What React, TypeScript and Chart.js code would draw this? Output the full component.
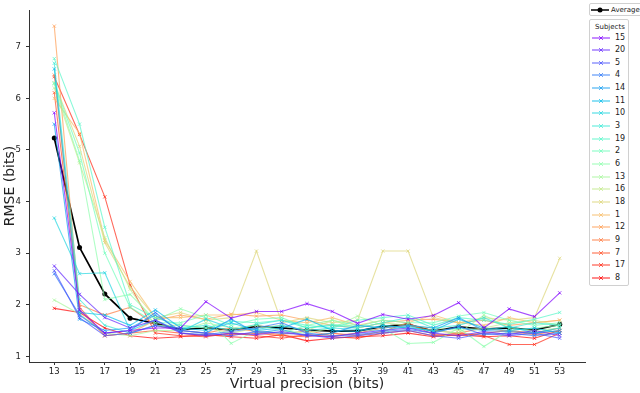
import React, { useEffect, useRef } from "react";
import { Chart, registerables } from "chart.js";

Chart.register(...registerables);

const precisions = [13, 15, 17, 19, 21, 23, 25, 27, 29, 31, 33, 35, 37, 39, 41, 43, 45, 47, 49, 51, 53];
const yTicks = [1, 2, 3, 4, 5, 6, 7];

const subjectNames = ["15", "20", "5", "4", "14", "11", "10", "3", "19", "2", "6", "13", "16", "18", "1", "12", "9", "7", "17", "8"];

const s15 = [5.72, 1.9, 1.45, 1.5, 1.55, 1.55, 2.06, 1.74, 1.87, 1.87, 2.02, 1.87, 1.64, 1.81, 1.72, 1.79, 2.04, 1.55, 1.92, 1.77, 2.23];
const s20 = [2.75, 2.2, 1.75, 1.55, 1.7, 1.45, 1.4, 1.45, 1.42, 1.48, 1.4, 1.38, 1.45, 1.5, 1.55, 1.45, 1.4, 1.48, 1.42, 1.5, 1.4];
const s5 = [2.66, 1.75, 1.4, 1.45, 1.6, 1.5, 1.45, 1.4, 1.48, 1.45, 1.42, 1.35, 1.4, 1.45, 1.5, 1.4, 1.35, 1.45, 1.4, 1.45, 1.35];
const s4 = [2.6, 1.8, 1.45, 1.5, 1.85, 1.45, 1.42, 1.48, 1.55, 1.65, 1.45, 1.4, 1.42, 1.48, 1.52, 1.45, 1.58, 1.42, 1.45, 1.4, 1.45];
const s14 = [5.5, 1.72, 1.5, 1.55, 1.8, 1.5, 1.45, 1.72, 1.45, 1.52, 1.4, 1.45, 1.6, 1.55, 1.6, 1.55, 1.75, 1.5, 1.48, 1.45, 1.5];
const s11 = [6.57, 1.85, 1.8, 1.6, 1.9, 1.55, 1.5, 1.65, 1.5, 1.55, 1.72, 1.5, 1.48, 1.6, 1.55, 1.5, 1.72, 1.55, 1.5, 1.55, 1.45];
const s10 = [3.68, 2.6, 2.62, 1.5, 1.7, 1.48, 1.72, 1.55, 1.52, 1.6, 1.5, 1.55, 1.52, 1.5, 1.58, 1.48, 1.55, 1.5, 1.58, 1.45, 1.55];
const s3 = [6.68, 2.1, 1.6, 1.45, 1.6, 1.55, 1.6, 1.5, 1.62, 1.7, 1.55, 1.6, 1.55, 1.65, 1.75, 1.55, 1.6, 1.75, 1.55, 1.65, 1.6];
const s19 = [6.77, 5.5, 3.5, 2.0, 1.75, 1.6, 1.55, 1.68, 1.65, 1.7, 1.6, 1.55, 1.7, 1.75, 1.8, 1.6, 1.75, 1.7, 1.62, 1.72, 1.85];
const s2 = [6.3, 4.94, 3.0, 1.95, 1.65, 1.65, 1.8, 1.6, 1.72, 1.75, 1.55, 1.62, 1.58, 1.7, 1.65, 1.65, 1.78, 1.85, 1.7, 1.6, 1.65];
const s6 = [6.28, 4.79, 2.1, 2.2, 1.7, 1.92, 1.75, 1.25, 1.5, 1.45, 1.6, 1.7, 1.6, 1.55, 1.25, 1.27, 1.55, 1.19, 1.5, 1.55, 1.6];
const s13 = [2.09, 1.82, 1.45, 1.4, 1.5, 1.5, 1.65, 1.55, 1.6, 1.5, 1.45, 1.55, 1.78, 1.6, 1.55, 1.5, 1.45, 1.8, 1.55, 1.5, 1.55];
const s16 = [6.2, 4.75, 3.3, 2.3, 1.6, 1.6, 1.55, 1.45, 1.55, 1.6, 1.5, 1.7, 1.55, 1.65, 1.6, 1.55, 1.5, 1.55, 1.65, 1.7, 1.6];
const s18 = [6.3, 5.07, 3.2, 2.35, 1.75, 1.85, 1.7, 1.75, 3.04, 1.65, 1.75, 1.65, 1.7, 3.04, 3.04, 1.75, 1.65, 1.75, 1.7, 1.75, 2.9];
const s1 = [6.0, 5.32, 3.25, 2.45, 1.75, 1.75, 1.8, 1.8, 1.85, 1.7, 1.65, 1.75, 1.6, 1.7, 1.65, 1.8, 1.65, 1.6, 1.75, 1.65, 1.7];
const s12 = [7.4, 1.9, 1.4, 1.45, 1.7, 1.8, 1.72, 1.82, 1.78, 1.8, 1.7, 1.6, 1.55, 1.65, 1.7, 1.72, 1.65, 1.7, 1.6, 1.65, 1.7];
const s9 = [6.45, 2.0, 1.8, 1.95, 1.6, 1.5, 1.45, 1.55, 1.48, 1.42, 1.5, 1.4, 1.45, 1.55, 1.6, 1.5, 1.45, 1.55, 1.48, 1.42, 1.5];
const s7 = [6.11, 1.95, 1.4, 1.45, 1.5, 1.45, 1.4, 1.42, 1.45, 1.4, 1.38, 1.45, 1.4, 1.48, 1.65, 1.42, 1.4, 1.45, 1.5, 1.45, 1.55];
const s17 = [6.42, 5.3, 4.09, 2.38, 1.45, 1.4, 1.38, 1.45, 1.4, 1.35, 1.42, 1.38, 1.35, 1.45, 1.5, 1.4, 1.45, 1.4, 1.23, 1.23, 1.45];
const s8 = [1.93, 1.85, 1.55, 1.4, 1.35, 1.38, 1.42, 1.38, 1.35, 1.42, 1.3, 1.35, 1.38, 1.4, 1.45, 1.38, 1.42, 1.38, 1.4, 1.35, 1.5];

const subjectValues = [s15, s20, s5, s4, s14, s11, s10, s3, s19, s2, s6, s13, s16, s18, s1, s12, s9, s7, s17, s8];

const averageValues = [5.23, 3.11, 2.21, 1.74, 1.64, 1.52, 1.55, 1.51, 1.58, 1.55, 1.51, 1.49, 1.49, 1.58, 1.62, 1.49, 1.57, 1.53, 1.55, 1.51, 1.62];

function rainbow(t: number, alpha: number): string {
  const clamp = (v: number) => Math.max(0, Math.min(1, v));
  const r = clamp(Math.abs(2 * t - 0.5));
  const g = clamp(Math.sin(t * Math.PI));
  const b = clamp(Math.cos((t * Math.PI) / 2));
  return `rgba(${Math.round(r * 255)},${Math.round(g * 255)},${Math.round(b * 255)},${alpha})`;
}

const subjectColors = subjectNames.map((_, i) => rainbow(i / (subjectNames.length - 1), 0.7));

const FONT = "'DejaVu Sans', sans-serif";

function MarkerIcon({ color, circle }: { color: string; circle?: boolean }) {
  return (
    <svg width={18} height={8} style={{ display: "block" }}>
      <line x1={0} y1={4} x2={18} y2={4} stroke={color} strokeWidth={circle ? 1.5 : 1.3} />
      {circle ? (
        <circle cx={9} cy={4} r={2.5} fill={color} />
      ) : (
        <g stroke={color} strokeWidth={1}>
          <line x1={7} y1={2} x2={11} y2={6} />
          <line x1={7} y1={6} x2={11} y2={2} />
        </g>
      )}
    </svg>
  );
}

export default function App() {
  const canvasRef = useRef<HTMLCanvasElement | null>(null);

  useEffect(() => {
    document.body.style.margin = "0";
    const ctx = canvasRef.current;
    if (!ctx) return;

    const datasets: any[] = subjectNames.map((name, i) => ({
      label: name,
      data: precisions.map((p, j) => ({ x: p, y: subjectValues[i][j] })),
      borderColor: subjectColors[i],
      backgroundColor: subjectColors[i],
      borderWidth: 1.1,
      pointStyle: "crossRot",
      pointRadius: 2.3,
      pointBorderWidth: 1,
      tension: 0,
    }));
    datasets.push({
      label: "Average",
      data: precisions.map((p, j) => ({ x: p, y: averageValues[j] })),
      borderColor: "#000",
      backgroundColor: "#000",
      borderWidth: 1.7,
      pointStyle: "circle",
      pointRadius: 2.5,
      pointBorderWidth: 0,
      tension: 0,
    });

    const chart = new Chart(ctx, {
      type: "line",
      data: { datasets },
      options: {
        animation: false,
        responsive: false,
        layout: { padding: { top: 0, right: 55, left: 0, bottom: 0 } },
        plugins: { legend: { display: false }, tooltip: { enabled: false } },
        scales: {
          x: {
            type: "linear",
            min: 11,
            max: 55,
            afterBuildTicks: (scale: any) => {
              scale.ticks = precisions.map((v) => ({ value: v }));
            },
            afterFit: (scale: any) => {
              scale.height = 31;
            },
            grid: { drawOnChartArea: false, drawTicks: true, tickLength: 3, color: "#333" },
            border: { display: true, color: "#333", width: 1 },
            ticks: { font: { family: FONT, size: 8.5 }, color: "#222", padding: 2, maxRotation: 0, autoSkip: false },
            title: { display: true, text: "Virtual precision (bits)", font: { family: FONT, size: 14 }, color: "#222", padding: 0 },
          },
          y: {
            type: "linear",
            min: 0.89,
            max: 7.71,
            afterBuildTicks: (scale: any) => {
              scale.ticks = yTicks.map((v) => ({ value: v }));
            },
            afterFit: (scale: any) => {
              scale.width = 29;
            },
            grid: { drawOnChartArea: false, drawTicks: true, tickLength: 3, color: "#333" },
            border: { display: true, color: "#333", width: 1 },
            ticks: { font: { family: FONT, size: 8.5 }, color: "#222", padding: 5 },
            title: { display: true, text: "RMSE (bits)", font: { family: FONT, size: 14 }, color: "#222", padding: { top: 2, bottom: 0 } },
          },
        },
      },
    });
    return () => chart.destroy();
  }, []);

  const boxStyle: React.CSSProperties = {
    position: "absolute",
    border: "1px solid #d0d0d0",
    borderRadius: 2,
    background: "#fff",
    boxSizing: "border-box",
    fontFamily: FONT,
    color: "#222",
  };

  return (
    <div style={{ position: "relative", width: 640, height: 393, overflow: "hidden", background: "#fff" }}>
      <canvas ref={canvasRef} width={640} height={393} style={{ position: "absolute", left: 0, top: 0 }} />
      <div style={{ ...boxStyle, left: 589, top: 3, width: 60, height: 13, display: "flex", alignItems: "center", paddingLeft: 1 }}>
        <MarkerIcon color="#000" circle />
        <span style={{ fontSize: 7, marginLeft: 2, whiteSpace: "nowrap" }}>Average</span>
      </div>
      <div style={{ ...boxStyle, left: 589, top: 19, width: 40, height: 267 }}>
        <div style={{ fontSize: 7, position: "absolute", left: 5, top: 3, whiteSpace: "nowrap" }}>Subjects</div>
        {subjectNames.map((name, i) => (
          <div
            key={name}
            style={{ position: "absolute", left: 2, top: 13.5 + i * 12.65, display: "flex", alignItems: "center", height: 8 }}
          >
            <MarkerIcon color={subjectColors[i]} />
            <span style={{ fontSize: 8, marginLeft: 5, lineHeight: "8px" }}>{name}</span>
          </div>
        ))}
      </div>
    </div>
  );
}
